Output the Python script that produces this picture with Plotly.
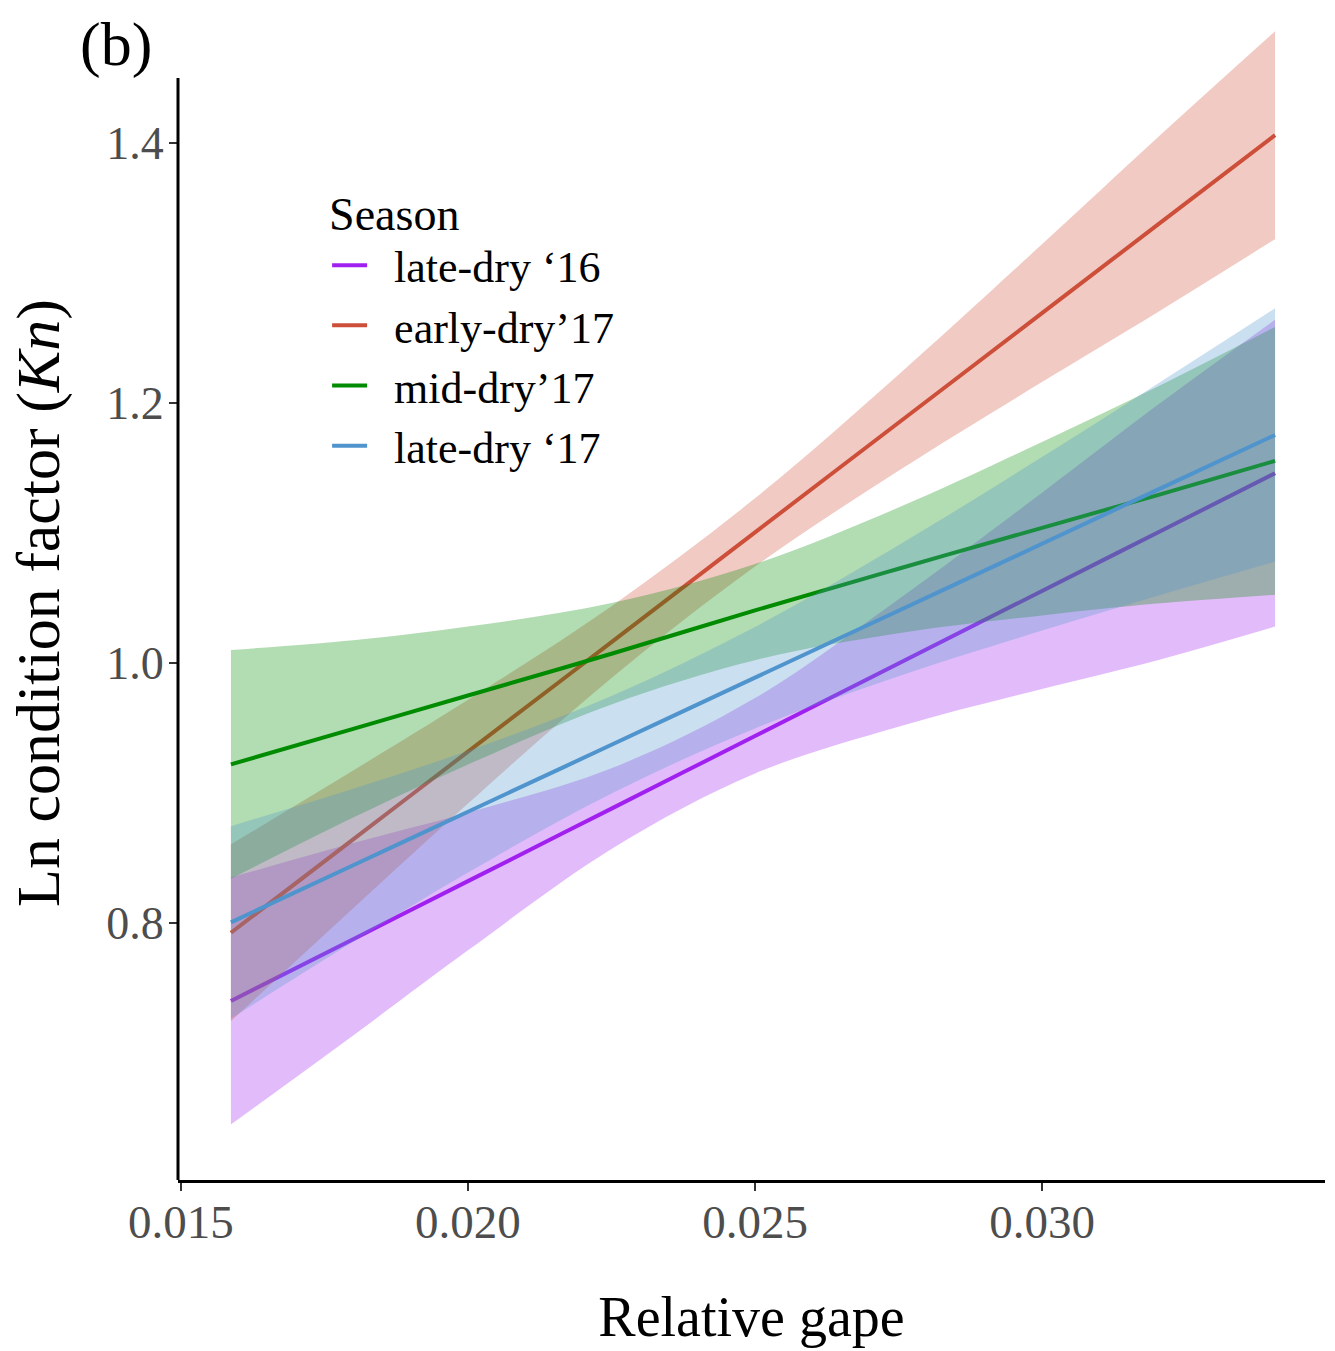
import plotly.graph_objects as go

# ---- data ----
gape = [0.01587, 0.018, 0.020, 0.0225, 0.025, 0.0275, 0.030, 0.032, 0.03406]

seasons = ["late-dry \u201816", "early-dry\u201917", "mid-dry\u201917", "late-dry \u201817"]

fit_late16 = [0.740, 0.7875, 0.8322, 0.888, 0.9438, 0.9996, 1.0554, 1.100, 1.146]
lo_late16 = [0.645, 0.7135, 0.779, 0.857, 0.915, 0.951, 0.980, 1.002, 1.028]
hi_late16 = [0.835, 0.8615, 0.885, 0.919, 0.973, 1.049, 1.131, 1.198, 1.264]

fit_early17 = [0.7925, 0.8643, 0.9318, 1.0161, 1.1005, 1.1848, 1.2691, 1.3366, 1.406]
lo_early17 = [0.7245, 0.8113, 0.8919, 0.9885, 1.0743, 1.1478, 1.2161, 1.2695, 1.326]
hi_early17 = [0.8605, 0.9173, 0.9717, 1.0437, 1.1267, 1.2218, 1.3221, 1.4037, 1.486]

fit_mid17 = [0.922, 0.9493, 0.975, 1.0071, 1.0405, 1.0725, 1.1040, 1.129, 1.1555]
lo_mid17 = [0.834, 0.8811, 0.922, 0.9681, 1.0021, 1.0228, 1.0366, 1.0457, 1.0525]
hi_mid17 = [1.010, 1.0175, 1.028, 1.0461, 1.0761, 1.1196, 1.170, 1.2123, 1.2585]

fit_late17 = [0.8005, 0.8444, 0.8856, 0.9371, 0.9887, 1.0402, 1.0917, 1.133, 1.1754]
lo_late17 = [0.7265, 0.7855, 0.8388, 0.8996, 0.9497, 0.9898, 1.0249, 1.0515, 1.0779]
hi_late17 = [0.8745, 0.9033, 0.9324, 0.9746, 1.0277, 1.0906, 1.1585, 1.2145, 1.2729]

x_ticks = [0.015, 0.020, 0.025, 0.030]
y_ticks = [0.8, 1.0, 1.2, 1.4]

line_colors = ["#A020F0", "#CD4F39", "#008B00", "#4F94CD"]
fill_colors = ["rgba(160,32,240,0.3)", "rgba(205,79,57,0.3)",
               "rgba(0,139,0,0.3)", "rgba(79,148,205,0.3)"]

fits = [fit_late16, fit_early17, fit_mid17, fit_late17]
lows = [lo_late16, lo_early17, lo_mid17, lo_late17]
highs = [hi_late16, hi_early17, hi_mid17, hi_late17]

X_RANGE = [0.014948, 0.03493]
Y_RANGE = [0.6023, 1.49]
Y_AXIS_TOP = 1.45

SERIF = "Liberation Serif, Times New Roman, serif"
GAP = "\u2002"  # visual gap between legend key and label, as in the reference

fig = go.Figure()
for name, f, lo, hi, lc, fc in zip(seasons, fits, lows, highs, line_colors, fill_colors):
    fig.add_trace(go.Scatter(x=gape, y=lo, mode="lines", line=dict(width=0, shape="spline"),
                             showlegend=False, hoverinfo="skip"))
    fig.add_trace(go.Scatter(x=gape, y=hi, mode="lines", line=dict(width=0, shape="spline"),
                             fill="tonexty", fillcolor=fc, showlegend=False, hoverinfo="skip"))
    fig.add_trace(go.Scatter(x=gape, y=f, mode="lines", name=GAP + name,
                             line=dict(color=lc, width=4, shape="spline")))

fig.update_layout(
    width=1335, height=1351,
    margin=dict(l=178, r=10, t=26, b=171),
    paper_bgcolor="white", plot_bgcolor="white",
    font=dict(family=SERIF, color="black"),
    legend=dict(
        x=0.130, y=0.875, xanchor="left", yanchor="top", traceorder="normal",
        title=dict(text="Season", font=dict(size=46, family=SERIF, color="black")),
        font=dict(size=44, family=SERIF, color="black"),
        bgcolor="rgba(0,0,0,0)", itemwidth=35,
    ),
    xaxis=dict(
        range=X_RANGE, tickvals=x_ticks, tickformat=".3f",
        showgrid=False, zeroline=False, showline=True, linecolor="black", linewidth=3,
        ticks="outside", ticklen=8, tickwidth=2, tickcolor="#333333", ticklabelstandoff=-9,
        tickfont=dict(size=47, family=SERIF, color="#4D4D4D"),
        title=dict(text="Relative gape", font=dict(size=56, family=SERIF, color="black"), standoff=50),
    ),
    yaxis=dict(
        range=Y_RANGE, tickvals=y_ticks, tickformat=".1f",
        showgrid=False, zeroline=False, showline=False,
        ticks="outside", ticklen=8, tickwidth=2, tickcolor="#333333", ticklabelstandoff=-4,
        tickfont=dict(size=46, family=SERIF, color="#4D4D4D"),
        title=dict(text="Ln condition factor (<i>Kn</i>)", font=dict(size=62, family=SERIF, color="black"),
                   standoff=26),
    ),
)
# y-axis line spans only up to the top of the labelled range, as in the reference
fig.add_shape(type="line", xref="paper", yref="y", x0=0, x1=0, y0=Y_RANGE[0], y1=Y_AXIS_TOP,
              line=dict(color="black", width=3), layer="above")
fig.add_annotation(text="(b)", xref="paper", yref="paper",
                   x=-0.0872, y=0.9844, xanchor="left", yanchor="middle",
                   showarrow=False, font=dict(size=62, family=SERIF, color="black"))

fig.write_html("out.html")
